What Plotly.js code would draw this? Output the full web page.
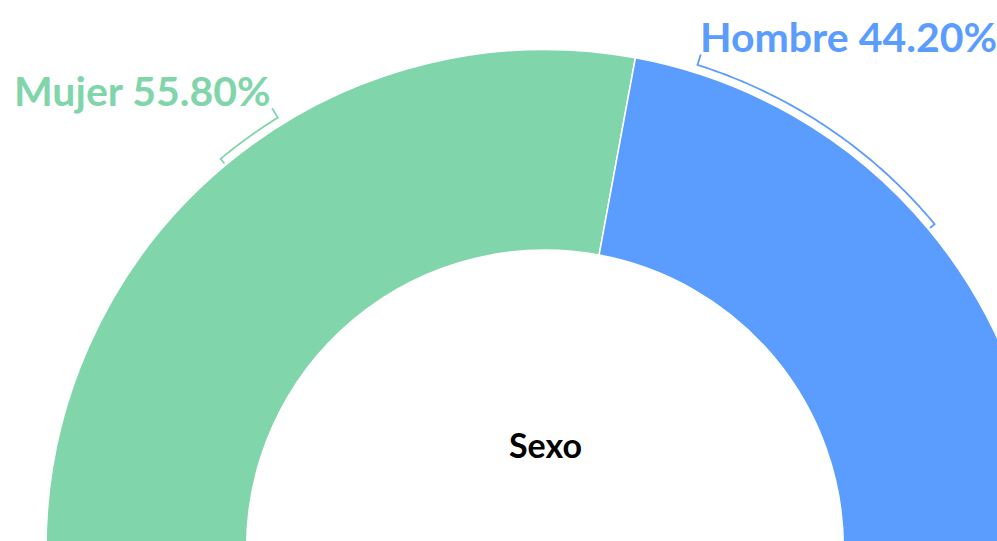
<!DOCTYPE html>
<html>
<head>
<meta charset="utf-8">
<script src="https://cdn.plot.ly/plotly-3.0.1.min.js"></script>
<style>
html,body{margin:0;padding:0;overflow:hidden;background:#fff;width:997px;height:541px;}
#chart{position:absolute;left:0;top:0;}
</style>
</head>
<body>
<div id="chart"></div>
<script>
// ---- data ----
const categories = ["Mujer", "Hombre"];
const values = [55.8, 44.2];
const centerTitle = "Sexo";

// ---- style ----
const colors = ["#80d6aa", "#5b9cff"];
const cx = 545, cy = 548.5, R = 499;  // donut centre / outer radius in px
const W = 2 * cx, H = 2 * cy;         // plot canvas (only the top 997x541 is visible)
const hole = 0.598;
const labelAngles = [-31.8, 17.5];    // where each label bracket ends (deg, clockwise from 12 o'clock)
const labelDx = [1, -3];
const fontFam = "Lato, 'Noto Sans', sans-serif";

const total = values.reduce((a, b) => a + b, 0);

const pie = {
  type: "pie",
  values: values.concat([total]),
  labels: categories.concat(["_hidden"]),
  sort: false,
  direction: "clockwise",
  rotation: -90,
  hole: hole,
  textinfo: "none",
  hoverinfo: "skip",
  showlegend: false,
  marker: {
    colors: colors.concat(["rgba(0,0,0,0)"]),
    line: {color: ["#ffffff", "#ffffff", "rgba(0,0,0,0)"], width: 1.5}
  },
  domain: {
    x: [(cx - R) / W, (cx + R) / W],
    y: [(H - cy - R) / H, (H - cy + R) / H]
  }
};

const px = X => X / W;
const py = Y => 1 - Y / H;
const pt = (r, a) => {
  const t = a * Math.PI / 180;
  return [cx + r * Math.sin(t), cy - r * Math.cos(t)];
};

const shapes = [];
const annotations = [];
let cum = 0;
values.forEach((v, i) => {
  const mid = -90 + (cum + v / 2) / total * 180;
  cum += v;
  const end = labelAngles[i];
  const rb = R + 8;
  let p = pt(R + 2, mid);
  let path = "M" + px(p[0]) + "," + py(p[1]);
  const n = 60;
  for (let k = 0; k <= n; k++) {
    const a = mid + (end - mid) * k / n;
    p = pt(rb, a);
    path += " L" + px(p[0]) + "," + py(p[1]);
  }
  const tip = pt(R + 19, end);
  path += " L" + px(tip[0]) + "," + py(tip[1]);
  shapes.push({
    type: "path", xref: "paper", yref: "paper", path: path,
    line: {color: colors[i], width: 1.8}, fillcolor: "rgba(0,0,0,0)"
  });
  const left = tip[0] > cx;
  annotations.push({
    xref: "paper", yref: "paper",
    x: px(tip[0] + labelDx[i]), y: py(tip[1] - 17.5),
    xanchor: left ? "left" : "right", yanchor: "middle",
    showarrow: false,
    text: "<b>" + categories[i] + " " + v.toFixed(2) + "%</b>",
    font: {family: fontFam, size: 41, color: colors[i]}
  });
});

annotations.push({
  xref: "paper", yref: "paper", x: px(cx), y: py(444),
  xanchor: "center", yanchor: "middle", showarrow: false,
  text: "<b>" + centerTitle + "</b>",
  font: {family: fontFam, size: 34, color: "#000000"}
});

const layout = {
  width: W, height: H,
  margin: {l: 0, r: 0, t: 0, b: 0},
  paper_bgcolor: "#ffffff",
  plot_bgcolor: "#ffffff",
  shapes: shapes,
  annotations: annotations,
  showlegend: false
};

Plotly.newPlot("chart", [pie], layout, {displayModeBar: false, staticPlot: true});
</script>
</body>
</html>
